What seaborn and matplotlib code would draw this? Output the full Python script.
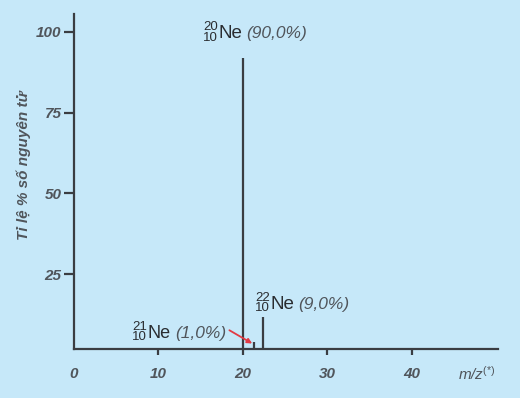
import matplotlib
matplotlib.use("Agg")
import matplotlib.pyplot as plt
import seaborn as sns
import pandas as pd

# data
mz = [20.0, 21.3, 22.4]
abundance = [92.0, 4.0, 11.8]
isotopes = ["20", "21", "22"]
labels_pct = ["(90,0%)", "(1,0%)", "(9,0%)"]
xticks = [0, 10, 20, 30, 40]
yticks = [25, 50, 75, 100]

df = pd.DataFrame({"mz": mz, "abundance": abundance})

BG = "#C6E8F9"
AX = "#3a3d42"
TXT = "#50555b"
DARK = "#2a2d31"

sns.set_theme(style="white")
plt.rcParams["font.family"] = ["Liberation Sans", "DejaVu Sans"]
plt.rcParams["mathtext.fontset"] = "custom"
plt.rcParams["mathtext.rm"] = "Liberation Sans"
plt.rcParams["mathtext.it"] = "Liberation Sans:italic"

fig = plt.figure(figsize=(5.2, 3.98), dpi=100, facecolor=BG)
ax = fig.add_axes([0.1423, 0.1231, 0.8154, 0.8417])
ax.set_facecolor(BG)

ax.vlines(df["mz"], 0, df["abundance"], color=AX, linewidth=1.6)

ax.set_xlim(0, 50.2)
ax.set_ylim(1.9, 105.5)
sns.despine(ax=ax)
for s in ["left", "bottom"]:
    ax.spines[s].set_color(AX)
    ax.spines[s].set_linewidth(1.6)

tkw = dict(fontstyle="italic", fontweight="bold", color=TXT, fontsize=11)
ax.set_xticks(xticks)
ax.set_xticklabels([str(t) for t in xticks], **tkw)
ax.set_yticks(yticks)
ax.set_yticklabels([str(t) for t in yticks], **tkw)
ax.tick_params(axis="y", direction="out", length=7, width=1.6, color=AX, pad=2, left=True)
ax.tick_params(axis="x", direction="out", length=4, width=1.6, color=AX, pad=9, bottom=True)
# hide tick mark at 0 (label kept)
ax.xaxis.get_major_ticks()[0].tick1line.set_visible(False)

# axis labels
fig.text(0.045, 0.585, "Tỉ lệ % số nguyên tử", rotation=90, ha="center", va="center",
         fontstyle="italic", fontweight="bold", color=TXT, fontsize=11)
ax.text(0.905, -0.075, r"m/z$^{(*)}$", transform=ax.transAxes, ha="left", va="center",
        fontstyle="italic", color=TXT, fontsize=11)

# peak labels: anchor = left of the mass/atomic numbers, baseline of "Ne"
PX = 0.72  # points per pixel at 100 dpi
pos = [(15.3, 98.0), (6.9, 5.4), (21.45, 14.4)]
ne_size = [13.5, 13.0, 13.5]
fig.canvas.draw()
for (x, y), iso, pct, ns in zip(pos, isotopes, labels_pct, ne_size):
    common = dict(xy=(x, y), textcoords="offset points", ha="left", va="baseline")
    ax.annotate(iso, xytext=(0, 8.0 * PX), fontsize=9.5,
                color=DARK, **common)
    ax.annotate("10", xytext=(0, -2.5 * PX), fontsize=9.5,
                color=DARK, **common)
    ne = ax.annotate("Ne", xytext=(15.5 * PX, 0), fontsize=ns, color=DARK, **common)
    fig.canvas.draw()
    x0 = ax.transData.transform((x, y))[0]
    x1 = ne.get_window_extent().x1
    ax.annotate(pct, xytext=((x1 - x0 + 4) * PX, 0), fontsize=12.5,
                fontstyle="italic", color=TXT, **common)

ax.annotate("", xy=(21.1, 3.6), xytext=(18.4, 7.7),
            arrowprops=dict(arrowstyle="-|>", color="#e23a44", lw=1.3,
                            mutation_scale=7, shrinkA=0, shrinkB=0))

fig.savefig("out.png", dpi=100, facecolor=BG)
